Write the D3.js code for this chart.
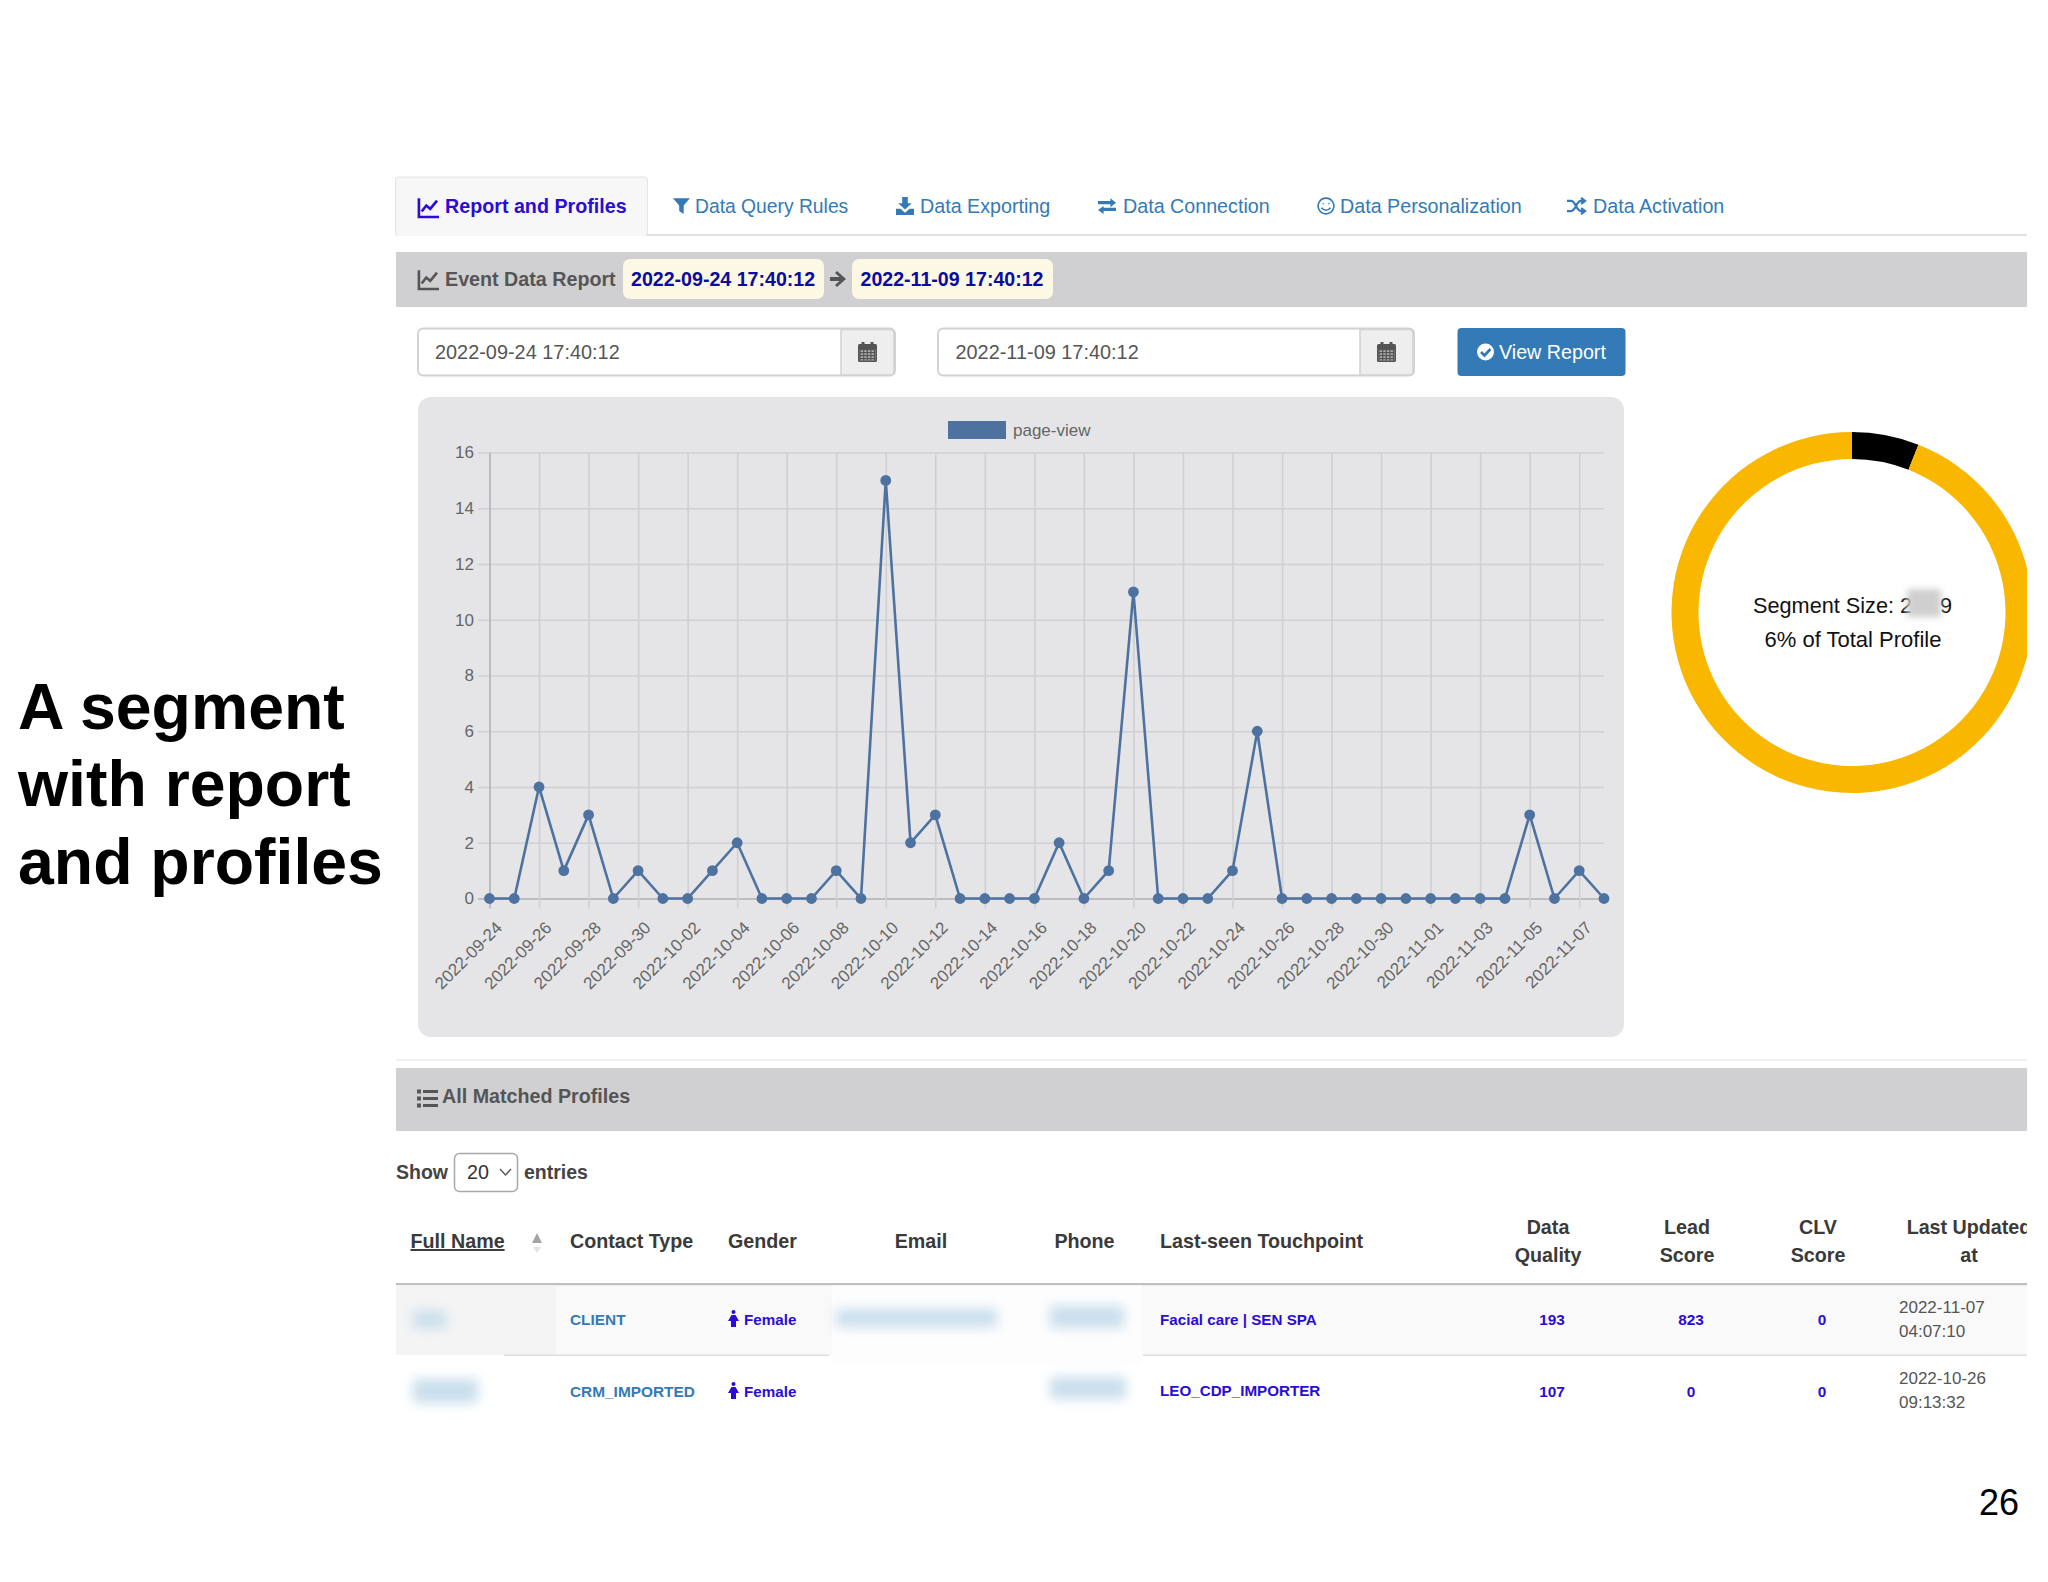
<!DOCTYPE html>
<html>
<head>
<meta charset="utf-8">
<script src="https://cdnjs.cloudflare.com/ajax/libs/d3/7.8.5/d3.min.js"></script>
<style>
  html, body { margin: 0; padding: 0; background: #fff; }
  svg { display: block; font-family: "Liberation Sans", Arial, sans-serif; }
</style>
</head>
<body>
<svg id="slide" width="2048" height="1582"></svg>
<script>
// --- chart data ---
const dates = [
  "2022-09-24", "2022-09-25", "2022-09-26", "2022-09-27", "2022-09-28", "2022-09-29", "2022-09-30",
  "2022-10-01", "2022-10-02", "2022-10-03", "2022-10-04", "2022-10-05", "2022-10-06", "2022-10-07",
  "2022-10-08", "2022-10-09", "2022-10-10", "2022-10-11", "2022-10-12", "2022-10-13", "2022-10-14",
  "2022-10-15", "2022-10-16", "2022-10-17", "2022-10-18", "2022-10-19", "2022-10-20", "2022-10-21",
  "2022-10-22", "2022-10-23", "2022-10-24", "2022-10-25", "2022-10-26", "2022-10-27", "2022-10-28",
  "2022-10-29", "2022-10-30", "2022-10-31", "2022-11-01", "2022-11-02", "2022-11-03", "2022-11-04",
  "2022-11-05", "2022-11-06", "2022-11-07", "2022-11-08"
];
const pageViews = [
  0, 0, 4, 1, 3, 0, 1,
  0, 0, 1, 2, 0, 0, 0,
  1, 0, 15, 2, 3, 0, 0,
  0, 0, 2, 0, 1, 11, 0,
  0, 0, 1, 6, 0, 0, 0,
  0, 0, 0, 0, 0, 0, 0,
  3, 0, 1, 0
];
const xTickLabels = [
  "2022-09-24", "2022-09-26", "2022-09-28", "2022-09-30", "2022-10-02", "2022-10-04", "2022-10-06",
  "2022-10-08", "2022-10-10", "2022-10-12", "2022-10-14", "2022-10-16", "2022-10-18", "2022-10-20",
  "2022-10-22", "2022-10-24", "2022-10-26", "2022-10-28", "2022-10-30", "2022-11-01", "2022-11-03",
  "2022-11-05", "2022-11-07"
];
const yTickValues = [0, 2, 4, 6, 8, 10, 12, 14, 16];
const seriesName = "page-view";
const segmentShares = [6, 94];

// --- page text ---
const titleLines = ["A segment", "with report", "and profiles"];
const otherTabs = ["Data Query Rules", "Data Exporting", "Data Connection", "Data Personalization", "Data Activation"];
const fromDate = "2022-09-24 17:40:12";
const toDate = "2022-11-09 17:40:12";
const contactTypes = ["CLIENT", "CRM_IMPORTED"];
const genders = ["Female", "Female"];
const touchpoints = ["Facial care | SEN SPA", "LEO_CDP_IMPORTER"];
const dataQuality = [193, 107];
const leadScore = [823, 0];
const clvScore = [0, 0];
const updatedDay = ["2022-11-07", "2022-10-26"];
const updatedTime = ["04:07:10", "09:13:32"];

const BLUE = "#337ab7";
const VIOLET = "#2a0cd6";
const GREY = "#555";
const LINE = "#4e72a0";
const UI_SIZE = 19.7;

const svg = d3.select("#slide");

function label(parent, x, y, str, size, fill, opts = {}) {
  return parent.append("text")
    .attr("x", x).attr("y", y)
    .attr("font-size", size)
    .attr("fill", fill)
    .attr("font-weight", opts.bold ? "bold" : "normal")
    .attr("text-anchor", opts.anchor || "start")
    .style("text-decoration", opts.underline ? "underline" : null)
    .text(str);
}

function box(parent, x, y, w, h, fill, r = 0, stroke = null) {
  return parent.append("rect")
    .attr("x", x).attr("y", y).attr("width", w).attr("height", h)
    .attr("rx", r).attr("fill", fill).attr("stroke", stroke);
}

// small icons, drawn on a 16x16 grid
const icons = {
  chart: { d: "M.7 1V15.2H16M2.8 11L6.3 6.5L9.3 9L14.5 2.8", stroke: true, width: 2 },
  filter: { d: "M0 1H15L9.5 7.5V15L5.5 12.5V7.5Z" },
  download: { d: "M5.5 0H10.5V5.5H14L8 11L2 5.5H5.5ZM0 10.5H4L8 14L12 10.5H16V16H0Z" },
  exchange: { d: "M0 3.5H11V1L16 5L11 9V6.5H0ZM16 9.5V12.5H5V15L0 11.5L5 8V9.5Z" },
  smile: { d: "M8 1A7 7 0 1 0 8.01 1ZM5.5 5.5V6.5M10.5 5.5V6.5M4 9.5Q8 14 12 9.5", stroke: true, width: 1.4 },
  random: { d: "M0 3.5H3.5C8 3.5 8 12.5 12.5 12.5H15M0 12.5H3.5C8 12.5 8 3.5 12.5 3.5H15M12.5 .8L16 3.5L12.5 6.2M12.5 9.8L16 12.5L12.5 15.2", stroke: true, width: 2 }
};

function icon(parent, name, x, y, size, color) {
  const ic = icons[name];
  parent.append("path")
    .attr("transform", `translate(${x},${y}) scale(${size / 16})`)
    .attr("d", ic.d)
    .attr("fill", ic.stroke ? "none" : color)
    .attr("stroke", ic.stroke ? color : "none")
    .attr("stroke-width", ic.stroke ? ic.width : 0);
}

function calendar(parent, x, y) {
  const g = parent.append("g").attr("transform", `translate(${x},${y})`);
  box(g, 0, 2, 19, 18, "#555", 1.5);
  box(g, 3.5, 0, 3, 4, "#555");
  box(g, 12.5, 0, 3, 4, "#555");
  box(g, 1.5, 7, 16, 11.5, "#aaa");
  d3.range(4).forEach((i) => box(g, 1.5, 7 + i * 3, 16, 1.2, "#555"));
  d3.range(5).forEach((i) => box(g, 1.5 + i * 3.6, 7, 1.2, 11.5, "#555"));
}

const defs = svg.append("defs");
defs.append("clipPath").attr("id", "pageClip")
  .append("rect").attr("x", 0).attr("y", 0).attr("width", 2027).attr("height", 1582);

// --- slide title and page number ---
titleLines.forEach((line, i) => {
  label(svg, 18, 729 + i * 77.3, line, 64.4, "#000", { bold: true });
});
label(svg, 2019, 1515, "26", 36, "#000", { anchor: "end" });

const page = svg.append("g").attr("clip-path", "url(#pageClip)");

// --- tabs ---
page.append("line").attr("x1", 396).attr("x2", 2027).attr("y1", 235).attr("y2", 235).attr("stroke", "#e2e2e4").attr("stroke-width", 2);
box(page, 395.5, 177, 252, 58, "#f7f7f8", 3, "#e4e4e6");
page.append("line").attr("x1", 397).attr("x2", 646).attr("y1", 235).attr("y2", 235).attr("stroke", "#f7f7f8").attr("stroke-width", 2);
icon(page, "chart", 418, 197, 21, VIOLET);
label(page, 445, 213, "Report and Profiles", UI_SIZE, VIOLET, { bold: true });

const tabIcons = ["filter", "download", "exchange", "smile", "random"];
const tabTextX = [695, 920, 1123, 1340, 1593];
const tabIconX = [673, 896, 1098, 1317, 1567];
otherTabs.forEach((t, i) => {
  icon(page, tabIcons[i], tabIconX[i], 197, 18, BLUE);
  label(page, tabTextX[i], 213, t, i === 0 ? 19.3 : UI_SIZE, BLUE);
});

// --- event report bar ---
box(page, 396, 252, 1640, 55, "#d0d0d2");
icon(page, "chart", 418, 269, 21, GREY);
label(page, 445, 286, "Event Data Report", UI_SIZE, GREY, { bold: true });
box(page, 623, 259, 201, 40, "#fcf8e3", 7);
box(page, 852, 259, 201, 40, "#fcf8e3", 7);
label(page, 631, 286, fromDate, 19.6, "#0b0ba0", { bold: true });
label(page, 860.5, 286, toDate, 19.6, "#0b0ba0", { bold: true });
page.append("path")
  .attr("transform", "translate(830,271)")
  .attr("d", "M7 0L16 8L7 16L5 14L9.5 10H0V6H9.5L5 2Z")
  .attr("fill", GREY);

// --- date inputs ---
[[418, 841, fromDate, 435], [938, 1360, toDate, 955.5]].forEach(([x0, xd, val, xt]) => {
  box(page, x0, 328.5, xd + 54 - x0, 47, "#fff", 5, "#d2d2d4").attr("stroke-width", 2);
  page.append("path")
    .attr("d", `M${xd} 329.5H${xd + 49}a4 4 0 0 1 4 4V371a4 4 0 0 1 -4 4H${xd}Z`)
    .attr("fill", "#eeeeef").attr("stroke", "#d2d2d4").attr("stroke-width", 1.5);
  label(page, xt, 358.5, val, 19.9, GREY);
  calendar(page, xd + 17, 342);
});

// --- view report button ---
box(page, 1457.5, 328, 168, 48, BLUE, 4);
page.append("circle").attr("cx", 1485.5).attr("cy", 352).attr("r", 8.5).attr("fill", "#fff");
page.append("path").attr("d", "M1481 352L1484.5 355.5L1490.5 349")
  .attr("fill", "none").attr("stroke", BLUE).attr("stroke-width", 2.6);
label(page, 1499, 358.5, "View Report", UI_SIZE, "#fff");

// --- line chart ---
box(page, 418, 397, 1206, 640, "#e5e5e7", 13);

const x = d3.scalePoint().domain(dates).range([489.5, 1604]);
const y = d3.scaleLinear().domain([0, 16]).range([898.5, 452.5]);

const yAxis = d3.axisLeft(y)
  .tickValues(yTickValues)
  .tickSize(x.range()[1] - 478)
  .tickPadding(4);
const xAxis = d3.axisBottom(x)
  .tickValues(xTickLabels)
  .tickSize(y(0) - y(16) + 10)
  .tickPadding(8);

const yG = page.append("g")
  .attr("transform", `translate(${x.range()[1]},0)`)
  .call(yAxis);
yG.select(".domain").remove();
yG.selectAll(".tick line").attr("stroke", "#d0d0d3").attr("stroke-width", 1.6);
yG.selectAll(".tick").filter((d) => d === 0).select("line").attr("stroke", "#bdbdc0").attr("stroke-width", 2);
yG.selectAll(".tick text")
  .attr("x", 474 - x.range()[1])
  .attr("font-family", "inherit")
  .attr("font-size", 17)
  .attr("fill", "#666");

const xG = page.append("g")
  .attr("transform", `translate(0,${y(16)})`)
  .call(xAxis);
xG.select(".domain").remove();
xG.selectAll(".tick line").attr("stroke", "#d0d0d3").attr("stroke-width", 1.6);
xG.selectAll(".tick").filter((d) => d === dates[0]).select("line").attr("stroke", "#bdbdc0").attr("stroke-width", 2);
xG.selectAll(".tick text")
  .attr("font-family", "inherit")
  .attr("font-size", 17)
  .attr("fill", "#666")
  .attr("text-anchor", "end")
  .attr("dy", "0.35em")
  .attr("transform", function () {
    return `translate(9,${+d3.select(this).attr("y") + 8}) rotate(-45)`;
  })
  .attr("y", 0);

const lineGen = d3.line().x((d, i) => x(dates[i])).y((d) => y(d));
page.append("path")
  .datum(pageViews)
  .attr("d", lineGen)
  .attr("fill", "none")
  .attr("stroke", LINE)
  .attr("stroke-width", 2.6);
page.append("g")
  .selectAll("circle")
  .data(pageViews)
  .join("circle")
  .attr("cx", (d, i) => x(dates[i]))
  .attr("cy", (d) => y(d))
  .attr("r", 5.4)
  .attr("fill", LINE);

// legend
box(page, 948, 421, 58, 18, LINE);
label(page, 1013, 436, seriesName, 17, "#666");

// --- segment donut ---
const donut = page.append("g").attr("transform", "translate(1852,612.5)");
const pieGen = d3.pie().sort(null);
const arcGen = d3.arc().innerRadius(153.5).outerRadius(180.5);
const donutColors = ["#000", "#f9b700"];
donut.selectAll("path")
  .data(pieGen(segmentShares))
  .join("path")
  .attr("d", arcGen)
  .attr("fill", (d, i) => donutColors[i]);

label(page, 1753, 613, "Segment Size: 2", 21.7, "#111");
label(page, 1952, 613, "9", 21.7, "#111", { anchor: "end" });
box(page, 1907, 589, 34, 28, "#cfcfcf").style("filter", "blur(3px)");
label(page, 1853, 647, "6% of Total Profile", 22, "#111", { anchor: "middle" });

// --- matched profiles bar ---
page.append("line").attr("x1", 396).attr("x2", 2027).attr("y1", 1060).attr("y2", 1060).attr("stroke", "#f0f0f1").attr("stroke-width", 2);
box(page, 396, 1068, 1640, 63, "#d0d0d2");
d3.range(3).forEach((i) => {
  box(page, 417, 1089.5 + i * 7, 4, 4, GREY);
  box(page, 423, 1090 + i * 7, 15, 3, GREY);
});
label(page, 442, 1103, "All Matched Profiles", UI_SIZE, GREY, { bold: true });

// --- table controls ---
label(page, 396, 1179, "Show", 19.5, "#444", { bold: true });
box(page, 454.5, 1153.5, 63, 38, "#fff", 5, "#a9a9ad").attr("stroke-width", 1.5);
label(page, 467, 1179, "20", 19.7, "#333");
page.append("path").attr("d", "M500 1169L505.5 1175L511 1169").attr("fill", "none").attr("stroke", "#555").attr("stroke-width", 1.4);
label(page, 524, 1179, "entries", 19.5, "#444", { bold: true });

// --- table header ---
const headColor = "#3a3a3a";
label(page, 410.5, 1248, "Full Name", UI_SIZE, headColor, { bold: true, underline: true });
page.append("path").attr("d", "M532 1243L537 1233L542 1243Z").attr("fill", "#a4a4a4");
page.append("path").attr("d", "M533 1247L537 1253L541 1247Z").attr("fill", "#e4e4e4");
label(page, 570, 1248, "Contact Type", UI_SIZE, headColor, { bold: true });
label(page, 728, 1248, "Gender", UI_SIZE, headColor, { bold: true });
label(page, 921, 1248, "Email", UI_SIZE, headColor, { bold: true, anchor: "middle" });
label(page, 1084.5, 1248, "Phone", UI_SIZE, headColor, { bold: true, anchor: "middle" });
label(page, 1160, 1248, "Last-seen Touchpoint", UI_SIZE, headColor, { bold: true });
[["Data", "Quality", 1548], ["Lead", "Score", 1687], ["CLV", "Score", 1818], ["Last Updated", "at", 1969]].forEach(([a, b, cx]) => {
  label(page, cx, 1234, a, UI_SIZE, headColor, { bold: true, anchor: "middle" });
  label(page, cx, 1262, b, UI_SIZE, headColor, { bold: true, anchor: "middle" });
});
box(page, 396, 1283, 1640, 2.5, "#c0bfc4");

// --- table rows ---
box(page, 396, 1285.5, 1640, 69.5, "#f9f9fa");
box(page, 396, 1285.5, 160, 69.5, "#f4f4f5");
box(page, 832, 1285.5, 310, 80, "#fdfdfe");
box(page, 504, 1354.5, 325, 1.5, "#dedee0");
box(page, 1143, 1354.5, 893, 1.5, "#dedee0");

// blurred-out personal data
const blurSpots = [
  [413, 1311, 33, 17], [836, 1309, 161, 18], [1050, 1306, 74, 22],
  [413, 1379, 65, 24], [1050, 1377, 76, 22]
];
page.append("g")
  .selectAll("rect")
  .data(blurSpots)
  .join("rect")
  .attr("x", (d) => d[0]).attr("y", (d) => d[1])
  .attr("width", (d) => d[2]).attr("height", (d) => d[3])
  .attr("fill", "#c9deec")
  .style("filter", "blur(6px)");

const rowBase = [1325, 1397];
const rowTime = [1313, 1384];
contactTypes.forEach((c, i) => {
  const base = rowBase[i];
  label(page, 570, base, c, 15.4, BLUE, { bold: true });

  // female figure icon
  const g = page.append("g").attr("transform", `translate(733.5,${base - 15})`);
  g.append("circle").attr("cx", 0).attr("cy", 2).attr("r", 2).attr("fill", VIOLET);
  g.append("path").attr("d", "M-2 5H2L5.5 11H2.5V17H-2.5V11H-5.5Z").attr("fill", VIOLET);
  label(page, 744, base, genders[i], 15.2, VIOLET, { bold: true });

  label(page, 1160, base - (i ? 1 : 0), touchpoints[i], 15.2, VIOLET, { bold: true });
  label(page, 1552, base, dataQuality[i], 15.4, VIOLET, { bold: true, anchor: "middle" });
  label(page, 1691, base, leadScore[i], 15.4, VIOLET, { bold: true, anchor: "middle" });
  label(page, 1822, base, clvScore[i], 15.4, VIOLET, { bold: true, anchor: "middle" });
  label(page, 1899, rowTime[i], updatedDay[i], 17, GREY);
  label(page, 1899, rowTime[i] + 24, updatedTime[i], 17, GREY);
});
</script>
</body>
</html>
